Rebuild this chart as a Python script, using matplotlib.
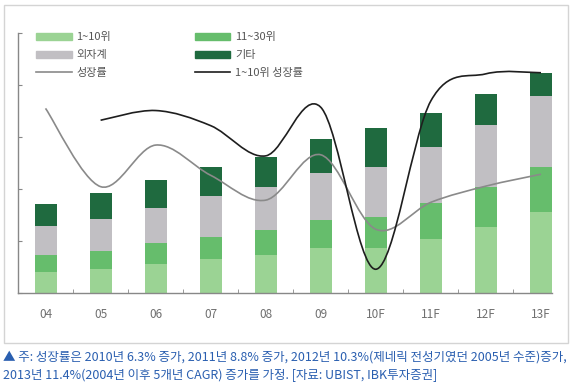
import numpy as np
import matplotlib
matplotlib.use("Agg")
import matplotlib.pyplot as plt
from matplotlib.path import Path
from matplotlib.patches import PathPatch, Patch, Rectangle
from matplotlib.lines import Line2D

plt.rcParams['font.family'] = ['Noto Sans CJK KR', 'DejaVu Sans']

# data
years = ['04', '05', '06', '07', '08', '09', '10F', '11F', '12F', '13F']
top10 = [20, 23, 28.2, 32.4, 36.8, 43.6, 43.6, 52, 63.8, 77.6]
rank11_30 = [17, 17.6, 20.2, 21.2, 23.5, 26.6, 29.8, 34.3, 37.9, 43.3]
foreign = [27.5, 30.8, 33, 39.7, 41.3, 45, 47.5, 53.8, 59.6, 68.6]
others = [21, 24.4, 27.2, 27.6, 29.2, 33, 37.5, 32.7, 29.8, 22.4]

growth = [17.5, 10.25, 14.1, 11.3, 9.0, 13.2, 6.3, 8.8, 10.3, 11.4]
top10_growth = [None, 16.4, 17.3, 15.9, 13.1, 17.6, 2.6, 18.2, 20.7, 20.8]

c_light = '#9bd394'
c_mid = '#66bd6c'
c_grey = '#c1bfc3'
c_dark = '#1f6a3f'


def smooth_path(xs, ys):
    # Excel-like smoothed line as cubic bezier segments
    pts = np.column_stack([xs, ys]).astype(float)
    n = len(pts)
    verts = [pts[0]]
    codes = [Path.MOVETO]
    for i in range(n - 1):
        p0 = pts[i - 1] if i > 0 else pts[i]
        p1 = pts[i]
        p2 = pts[i + 1]
        p3 = pts[i + 2] if i + 2 < n else pts[i + 1]
        c1 = p1 + (p2 - p0) / 6.0
        c2 = p2 - (p3 - p1) / 6.0
        verts += [c1, c2, p2]
        codes += [Path.CURVE4] * 3
    return Path(verts, codes)


fig = plt.figure(figsize=(5.73, 3.85), dpi=100)
ax = fig.add_axes([18 / 573, 1 - 293 / 385, (552 - 18) / 573, (293 - 33) / 385])

x = np.arange(len(years))
w = 0.4
b = np.zeros(len(years))
for vals, col in [(top10, c_light), (rank11_30, c_mid), (foreign, c_grey), (others, c_dark)]:
    ax.bar(x, vals, w, bottom=b, color=col, linewidth=0, zorder=2)
    b = b + np.array(vals)

ax.set_xlim(-0.5, 9.2)
ax.set_ylim(0, 250)
ax.set_xticks(x)
ax.set_xticklabels(years)
ax.set_xticks(np.arange(0.5, 9, 1), minor=True)
ax.set_yticks(np.arange(0, 251, 50))
ax.set_yticklabels([])
ax.tick_params(axis='x', which='major', length=0, pad=11, labelsize=8.5, labelcolor='#707070')
ax.tick_params(axis='x', which='minor', length=3, direction='in', color='#888888')
ax.tick_params(axis='y', length=3, direction='in', color='#888888')
for s in ['top', 'right']:
    ax.spines[s].set_visible(False)
for s in ['left', 'bottom']:
    ax.spines[s].set_color('#888888')
    ax.spines[s].set_linewidth(1.0)

# growth lines on a hidden second scale
ax2 = ax.twinx()
ax2.set_ylim(0.4, 24.48)
ax2.set_xlim(ax.get_xlim())
ax2.axis('off')

ax2.add_patch(PathPatch(smooth_path(x, growth), fill=False, edgecolor='#8a8a8a', lw=1.2))
idx = [i for i, v in enumerate(top10_growth) if v is not None]
ax2.add_patch(PathPatch(smooth_path(x[idx], [top10_growth[i] for i in idx]),
                        fill=False, edgecolor='#1e1e1e', lw=1.2))

handles = [
    Patch(color=c_light, label='1~10위'),
    Patch(color=c_grey, label='외자계'),
    Line2D([], [], color='#8a8a8a', lw=1.2, label='성장률'),
    Patch(color=c_mid, label='11~30위'),
    Patch(color=c_dark, label='기타'),
    Line2D([], [], color='#1e1e1e', lw=1.2, label='1~10위 성장률'),
]
fig.legend(handles=handles, ncol=2, loc='upper left', bbox_to_anchor=(36 / 573, 1 - 32 / 385),
           frameon=False, fontsize=8, labelcolor='#555555', handlelength=3.2, handleheight=0.6,
           handletextpad=0.45, columnspacing=7.5, labelspacing=0.72, borderpad=0, borderaxespad=0)

fig.patches.append(Rectangle((4 / 573, 1 - 343 / 385), 564 / 573, 338 / 385,
                             transform=fig.transFigure, fill=False, edgecolor='#d4d4d4', lw=1))

note_color = '#2a5fb0'
fig.text(3 / 573, 1 - 357 / 385,
         '▲ 주: 성장률은 2010년 6.3% 증가, 2011년 8.8% 증가, 2012년 10.3%(제네릭 전성기였던 2005년 수준)증가,',
         fontsize=9.0, color=note_color, va='center', ha='left')
fig.text(3 / 573, 1 - 375 / 385,
         '2013년 11.4%(2004년 이후 5개년 CAGR) 증가를 가정. [자료: UBIST, IBK투자증권]',
         fontsize=9.0, color=note_color, va='center', ha='left')

fig.savefig('out.png', dpi=100, facecolor='white')
